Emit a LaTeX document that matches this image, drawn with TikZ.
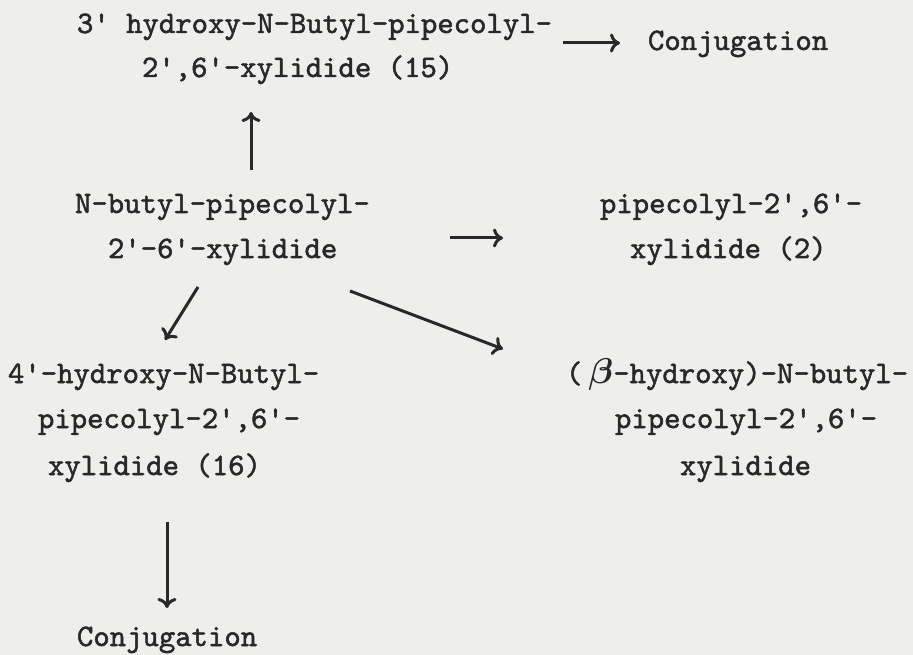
\RequirePackage{fix-cm}
\documentclass[tikz,border=0pt]{standalone}
\usepackage{fontspec}
\usetikzlibrary{arrows.meta}
\newfontfamily\twfont{lmmono10-regular.otf}[FakeBold=1.6]
\definecolor{paper}{RGB}{238,238,236}
\definecolor{ink}{RGB}{40,40,40}
\newcommand\tw{\fontsize{31.2}{36}\selectfont\twfont}
\newcommand\q{\textquotesingle}
\tikzset{
  lbl/.style={anchor=base west, inner sep=0pt, outer sep=0pt, text=ink, font=\tw},
  arr/.style={draw=ink, line width=3pt, -{To[length=10pt,width=19pt]}},
}
\begin{document}
\begin{tikzpicture}[x=1pt,y=-1pt]
\fill[paper] (0,0) rectangle (913,655);
\useasboundingbox (0,0) rectangle (913,655);

% compound 15
\node[lbl] (a1) at (77,33) {3\q\ hydroxy-N-Butyl-pipecolyl-};
\node[lbl] (a2) at (142,77) {2\q,6\q-xylidide (15)};
\node[lbl] (conj1) at (648,50) {Conjugation};

% parent
\node[lbl] (b1) at (75,213) {N-butyl-pipecolyl-};
\node[lbl] (b2) at (108,258) {2\q-6\q-xylidide};

% compound 2
\node[lbl] (c1) at (600,213) {pipecolyl-2\q,6\q-};
\node[lbl] (c2) at (630,258) {xylidide (2)};

% compound 16
\node[lbl] (d1) at (8,383) {4\q-hydroxy-N-Butyl-};
\node[lbl] (d2) at (38,428) {pipecolyl-2\q,6\q-};
\node[lbl] (d3) at (48,475) {xylidide (16)};

% beta-hydroxy
\node[lbl] (e1) at (566,383) {(\hspace{6pt}\scalebox{1.15}{\boldmath$\beta$}-hydroxy)-N-butyl-};
\node[lbl] (e2) at (615,428) {pipecolyl-2\q,6\q-};
\node[lbl] (e3) at (680,475) {xylidide};

\node[lbl] (conj2) at (77,646) {Conjugation};

% arrow end points
\coordinate (upS) at (251,170);
\coordinate (upE) at (251,112);
\coordinate (rtS) at (563,43);
\coordinate (rtE) at (620,43);
\coordinate (mdS) at (450,238);
\coordinate (mdE) at (503,238);
\coordinate (dlS) at (198,287);
\coordinate (dlE) at (165,340);
\coordinate (drS) at (350,291);
\coordinate (drE) at (503,349);
\coordinate (dnS) at (167,522);
\coordinate (dnE) at (167,608);

\draw[arr] (upS) -- (upE);
\draw[arr] (rtS) -- (rtE);
\draw[arr] (mdS) -- (mdE);
\draw[arr] (dlS) -- (dlE);
\draw[arr] (drS) -- (drE);
\draw[arr] (dnS) -- (dnE);
\end{tikzpicture}
\end{document}
